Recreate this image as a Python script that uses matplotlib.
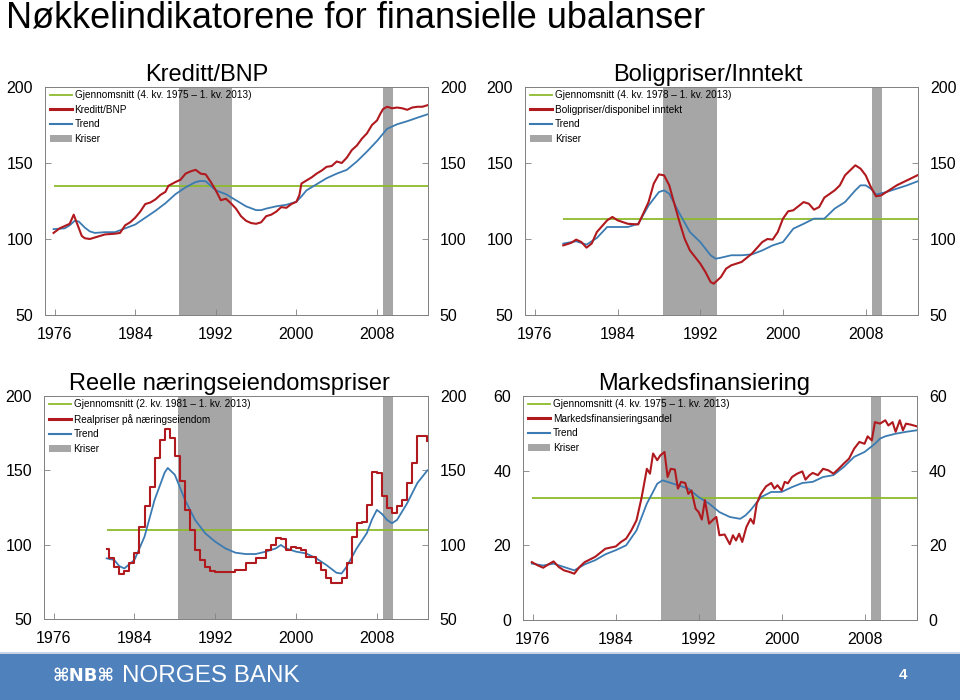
import matplotlib
matplotlib.use("Agg")
import matplotlib.pyplot as plt
from matplotlib.patches import Rectangle, Patch
from matplotlib.lines import Line2D

plt.rcParams['font.family'] = ['Liberation Sans', 'DejaVu Sans']

#titles and legend texts
main_title = 'Nøkkelindikatorene for finansielle ubalanser'
panel_titles = ['Kreditt/BNP', 'Boligpriser/Inntekt',
                'Reelle næringseiendomspriser', 'Markedsfinansiering']
avg_labels = ['Gjennomsnitt (4. kv. 1975 – 1. kv. 2013)',
              'Gjennomsnitt (4. kv. 1978 – 1. kv. 2013)',
              'Gjennomsnitt (2. kv. 1981 – 1. kv. 2013)',
              'Gjennomsnitt (4. kv. 1975 – 1. kv. 2013)']
series_labels = ['Kreditt/BNP', 'Boligpriser/disponibel inntekt',
                 'Realpriser på næringseiendom', 'Markedsfinansieringsandel']

#averages (value, first year)
avg_values = [135, 113, 110, 32.8]
avg_start = [1975.9, 1978.75, 1981.25, 1975.9]

#crisis periods
crises = [(1988.35, 1993.65), (2008.6, 2009.6)]

#x ticks and y ticks
year_ticks = [1976, 1984, 1992, 2000, 2008]
y_ticks = [[50, 100, 150, 200], [50, 100, 150, 200],
           [50, 100, 150, 200], [0, 20, 40, 60]]

#Kreditt/BNP
kred_x = [1975.9, 1976.5, 1977, 1977.5, 1977.9, 1978.3, 1978.7, 1979, 1979.5, 1980,
          1981, 1982, 1982.5, 1983, 1983.5, 1984, 1984.5, 1985, 1985.5, 1986,
          1986.5, 1987, 1987.3, 1988, 1988.5, 1989, 1989.5, 1990, 1990.5, 1991,
          1991.5, 1992, 1992.5, 1993, 1993.5, 1994, 1994.5, 1995, 1995.5, 1996,
          1996.5, 1997, 1997.5, 1998, 1998.5, 1999, 1999.5, 2000, 2000.3, 2000.5,
          2001, 2001.5, 2002, 2002.5, 2003, 2003.5, 2004, 2004.5, 2005, 2005.5,
          2006, 2006.5, 2007, 2007.5, 2008, 2008.3, 2008.6, 2009, 2009.5, 2010,
          2010.5, 2011, 2011.5, 2012, 2012.5, 2013]
kred_y = [104, 107, 108.5, 110, 116, 109, 102, 100.5, 100, 101,
          103, 103.5, 104, 109, 111, 114, 118, 123, 124, 126,
          129, 131, 135, 137.5, 139, 143, 144.5, 145.5, 143, 142.5,
          137.5, 132, 125.5, 126.5, 123.5, 120, 115, 112, 110.5, 110,
          111, 115, 116, 118, 121, 120.5, 123, 124.5, 129, 136.5,
          138.5, 140.5, 143, 145, 147.5, 148, 151, 150, 153.5, 158.5,
          161.5, 166, 169.5, 175, 178, 182, 185.5, 187, 186, 186.5,
          186, 185, 186.5, 187, 187, 188]
kred_tx = [1975.9, 1977, 1977.5, 1978, 1978.4, 1979, 1979.5, 1980, 1981, 1982,
           1983, 1984, 1985, 1986, 1987, 1988, 1989, 1990, 1990.5, 1991,
           1991.5, 1992, 1993, 1994, 1995, 1996, 1996.5, 1997, 1998, 1999,
           2000, 2000.5, 2001, 2002, 2003, 2004, 2005, 2006, 2007, 2008,
           2008.5, 2009, 2010, 2011, 2012, 2013]
kred_ty = [106.5, 107, 109, 112, 111.5, 107.5, 105, 104, 104.5, 104.5,
           107, 109.5, 114, 118.5, 123.5, 129.5, 134, 137.5, 138.2, 138,
           135, 132, 129.5, 125.5, 121.5, 119, 119, 120, 121.5, 122.5,
           124.5, 128, 132, 136, 140, 143, 145.5, 151, 157.5, 164.5,
           168.5, 172.5, 175.5, 177.5, 179.8, 182]

#Boligpriser/Inntekt
bol_x = [1978.75, 1979.5, 1980, 1980.5, 1981, 1981.5, 1982, 1983, 1983.5, 1984,
         1985, 1986, 1987, 1987.5, 1988, 1988.5, 1989, 1989.5, 1990, 1990.5,
         1991, 1992, 1992.5, 1993, 1993.3, 1994, 1994.5, 1995, 1996, 1997,
         1998, 1998.5, 1999, 1999.5, 2000, 2000.5, 2001, 2002, 2002.5, 2003,
         2003.5, 2004, 2005, 2005.5, 2006, 2007, 2007.5, 2008, 2008.5, 2009,
         2009.5, 2010, 2011, 2012, 2013]
bol_y = [95.8, 97.4, 99.6, 98, 94.3, 97, 104.6, 112.3, 114.5, 112.3,
         110, 109.6, 124.3, 136.4, 142.5, 141.9, 135.3, 123, 111, 100,
         92.5, 83.8, 78.3, 71.7, 70.6, 75, 80.5, 82.7, 84.9, 90.4,
         98, 100, 99.6, 104.6, 113.4, 118.2, 118.9, 124.3, 123.2, 119.3,
         121, 127.2, 132, 135.3, 141.9, 148.5, 146.3, 141.9, 134.2, 128.1,
         128.7, 130.9, 135.3, 138.6, 141.9]
bol_tx = [1978.75, 1980, 1981, 1982, 1983, 1984, 1985, 1986, 1987, 1988,
          1988.5, 1989, 1990, 1991, 1992, 1993, 1993.5, 1994, 1995, 1996,
          1997, 1998, 1999, 2000, 2001, 2002, 2003, 2004, 2005, 2006,
          2007, 2007.5, 2008, 2008.5, 2009, 2010, 2011, 2012, 2013]
bol_ty = [97, 98.5, 96.3, 100.7, 107.9, 107.9, 107.9, 110, 122, 130.9,
          132, 129.8, 116.7, 104.6, 98, 89.3, 87, 87.7, 89.3, 89.3,
          89.9, 92.5, 95.8, 98, 106.8, 110, 113.4, 113.4, 120, 124.3,
          132, 135.3, 135.3, 133.1, 129.2, 130.9, 133.1, 135.3, 137.9]

#Reelle naeringseiendomspriser (half-year steps)
ne_x = [1981.25, 1981.5, 1982, 1982.5, 1983, 1983.5, 1984, 1984.5, 1985, 1985.5,
        1986, 1986.5, 1987, 1987.5, 1988, 1988.5, 1989, 1989.5, 1990, 1990.5,
        1991, 1991.5, 1992, 1993, 1994, 1995, 1996, 1997, 1997.5, 1998,
        1998.5, 1999, 1999.5, 2000, 2000.5, 2001, 2002, 2002.5, 2003, 2003.5,
        2004, 2004.5, 2005, 2005.5, 2006, 2006.5, 2007, 2007.5, 2008, 2008.5,
        2009, 2009.5, 2010, 2010.5, 2011, 2011.5, 2012, 2012.5, 2013]
ne_y = [96.8, 90.8, 85.1, 80.6, 82.4, 87.4, 94.1, 112, 125.7, 138.7,
        158.3, 170.7, 178, 171.8, 159.5, 142.6, 123.4, 110, 96.4, 89.7,
        85.1, 82.4, 81.3, 81.3, 83, 87.4, 90.8, 96.4, 99.8, 104.3,
        103.8, 96.4, 98.6, 97.5, 96.4, 91.9, 87.4, 83, 77.3, 74.5,
        74.5, 77.3, 87.4, 105.4, 114.4, 115.5, 126.8, 148.6, 148.2, 132.4,
        124.5, 121.2, 125.7, 130.2, 141.4, 155, 173, 173.4, 170]
ne_tx = [1981.25, 1982, 1982.5, 1983, 1984, 1985, 1986, 1987, 1987.3, 1988,
         1989, 1990, 1991, 1992, 1993, 1994, 1995, 1996, 1997, 1998,
         1998.5, 1999, 2000, 2001, 2002, 2003, 2004, 2004.5, 2005, 2006,
         2007, 2007.5, 2008, 2008.5, 2009, 2009.5, 2010, 2011, 2012, 2013]
ne_ty = [90.8, 89.7, 85.6, 84, 89.7, 105.4, 130.2, 148.6, 151.6, 147,
         130.2, 116.7, 107.7, 102, 97.5, 94.6, 93.7, 93.7, 95.3, 97.5,
         99.8, 97.5, 95.3, 94.1, 90.8, 86.3, 81.1, 80.6, 85.1, 97.5,
         107.7, 116.7, 123.4, 120.7, 116.7, 114.4, 116.7, 127.9, 141.4, 150]

#Markedsfinansiering
mf_x = [1975.9, 1976.5, 1977, 1977.5, 1978, 1978.5, 1979, 1979.5, 1980, 1980.5,
        1981, 1982, 1983, 1984, 1984.5, 1985, 1985.5, 1986, 1986.5, 1987,
        1987.3, 1987.6, 1988, 1988.3, 1988.7, 1989, 1989.3, 1989.7, 1990, 1990.3,
        1990.7, 1991, 1991.3, 1991.7, 1992, 1992.3, 1992.6, 1993, 1993.4, 1993.7,
        1994, 1994.5, 1995, 1995.3, 1995.6, 1995.9, 1996.2, 1996.6, 1997, 1997.3,
        1997.6, 1998, 1998.5, 1999, 1999.3, 1999.6, 2000, 2000.3, 2000.6, 2001,
        2001.5, 2002, 2002.3, 2002.7, 2003, 2003.5, 2004, 2004.5, 2005, 2005.5,
        2006, 2006.5, 2007, 2007.5, 2008, 2008.3, 2008.7, 2009, 2009.5, 2010,
        2010.3, 2010.7, 2011, 2011.4, 2011.7, 2012, 2012.5, 2013]
mf_y = [15.5, 14.6, 14, 14.9, 15.7, 14.2, 13.3, 12.9, 12.4, 14.2,
        15.5, 16.9, 19.1, 19.7, 20.9, 21.8, 24, 26.7, 32.9, 40.5,
        39.2, 44.6, 42.8, 44.1, 45, 38.3, 40.5, 40.3, 35.2, 37,
        36.7, 33.8, 34.7, 29.8, 28.9, 26.9, 32.1, 25.8, 26.9, 27.6,
        22.7, 22.9, 20.3, 22.7, 21.3, 23.1, 20.9, 24.9, 27.1, 25.8,
        31.2, 33.8, 35.8, 36.7, 35.2, 36.1, 34.7, 37, 36.6, 38.3,
        39.2, 39.8, 37.6, 38.8, 39.4, 38.8, 40.5, 40.1, 39.2, 40.5,
        41.9, 43.2, 45.9, 47.7, 47.2, 49.2, 48.1, 53, 52.6, 53.5,
        52.1, 53, 50.4, 53.5, 50.8, 52.6, 52.3, 51.9]
mf_tx = [1975.9, 1977, 1978, 1979, 1980, 1981, 1982, 1983, 1984, 1985,
         1986, 1987, 1987.5, 1988, 1988.5, 1989, 1990, 1991, 1992, 1993,
         1994, 1995, 1996, 1996.5, 1997, 1998, 1999, 2000, 2001, 2002,
         2003, 2004, 2005, 2006, 2007, 2008, 2009, 2009.5, 2010, 2011,
         2012, 2013]
mf_ty = [15.1, 14.6, 15.1, 14.2, 13.3, 14.9, 16, 17.6, 18.7, 20,
         24, 31.2, 33.8, 36.5, 37.4, 37, 36.1, 35.2, 32.9, 31.2,
         28.9, 27.6, 27.1, 28, 29.4, 32.9, 34.3, 34.3, 35.6, 36.7,
         37, 38.3, 38.8, 41, 43.7, 45, 47.2, 48.6, 49.2, 49.9,
         50.4, 50.8]

#colours
green = '#8DBB2E'
red = '#B0191E'
blue = '#3B7BB2'
grey = '#A6A6A6'

fig = plt.figure(figsize=(9.6, 7), dpi=100)

#main title
fig.text(0.006, 1 - 27/700, main_title, fontsize=26, va='baseline', ha='left')

#axes boxes in pixel coordinates: left, bottom, width, height
boxes = [(45, 315, 383, 228), (525, 315, 393, 228),
         (44, 619, 384, 223), (523, 620, 394, 224)]
title_x = [0.423, 0.466, 0.482, 0.459]
data = [(kred_x, kred_y, kred_tx, kred_ty),
        (bol_x, bol_y, bol_tx, bol_ty),
        (ne_x, ne_y, ne_tx, ne_ty),
        (mf_x, mf_y, mf_tx, mf_ty)]

for i in range(4):
    l, b, w, h = boxes[i]
    ax = fig.add_axes([l/960, 1 - b/700, w/960, h/700])
    x, y, tx, ty = data[i]
    for start, end in crises:
        ax.axvspan(start, end, color=grey, lw=0, zorder=0)
    ax.hlines(avg_values[i], avg_start[i], 2013.06, color=green, lw=1.3, zorder=2)
    ax.plot(tx, ty, color=blue, lw=1.3, zorder=3)
    if i == 2:
        ax.plot(x, y, color=red, lw=1.5, drawstyle='steps-post', zorder=4)
    else:
        ax.plot(x, y, color=red, lw=1.5, zorder=4)

    ax.set_xlim(1975.05, 2013.06)
    ax.set_ylim(y_ticks[i][0], y_ticks[i][-1])
    ax.set_xticks(year_ticks)
    ax.set_yticks(y_ticks[i])
    ax.tick_params(direction='in', length=4, width=0.6, color='#808080',
                   labelsize=11.5, pad=8.5, right=True, labelright=True)
    for s in ax.spines.values():
        s.set_color('#808080')
        s.set_linewidth(0.7)
    ax.set_title(panel_titles[i], fontsize=17, x=title_x[i], pad=4)

    handles = [Line2D([], [], color=green, lw=1.3),
               Line2D([], [], color=red, lw=2.2),
               Line2D([], [], color=blue, lw=1.5),
               Patch(facecolor=grey, edgecolor='none')]
    labels = [avg_labels[i], series_labels[i], 'Trend', 'Kriser']
    ax.legend(handles, labels, loc='upper left', bbox_to_anchor=(0.012, 0.985),
              frameon=False, fontsize=7.2, handlelength=2.2, handletextpad=0.3,
              labelspacing=0.45, borderaxespad=0, borderpad=0)

#footer band
fig.patches.append(Rectangle((0, 0), 1, 46/700, transform=fig.transFigure,
                             facecolor='#4F81BD', edgecolor='none'))
fig.patches.append(Rectangle((0, 46/700), 1, 2/700, transform=fig.transFigure,
                             facecolor='#C8D5E8', edgecolor='none'))
fig.text(52/960, 1 - 676/700, '⌘NB⌘', fontsize=13, color='white',
         fontweight='bold', va='center', ha='left', family=['DejaVu Sans'])
fig.text(122/960, 1 - 676/700, 'NORGES BANK', fontsize=17.5, color='white',
         va='center', ha='left')
fig.text(903/960, 1 - 675/700, '4', fontsize=11, color='white',
         fontweight='bold', va='center', ha='center')

fig.savefig('out.png', dpi=100)
